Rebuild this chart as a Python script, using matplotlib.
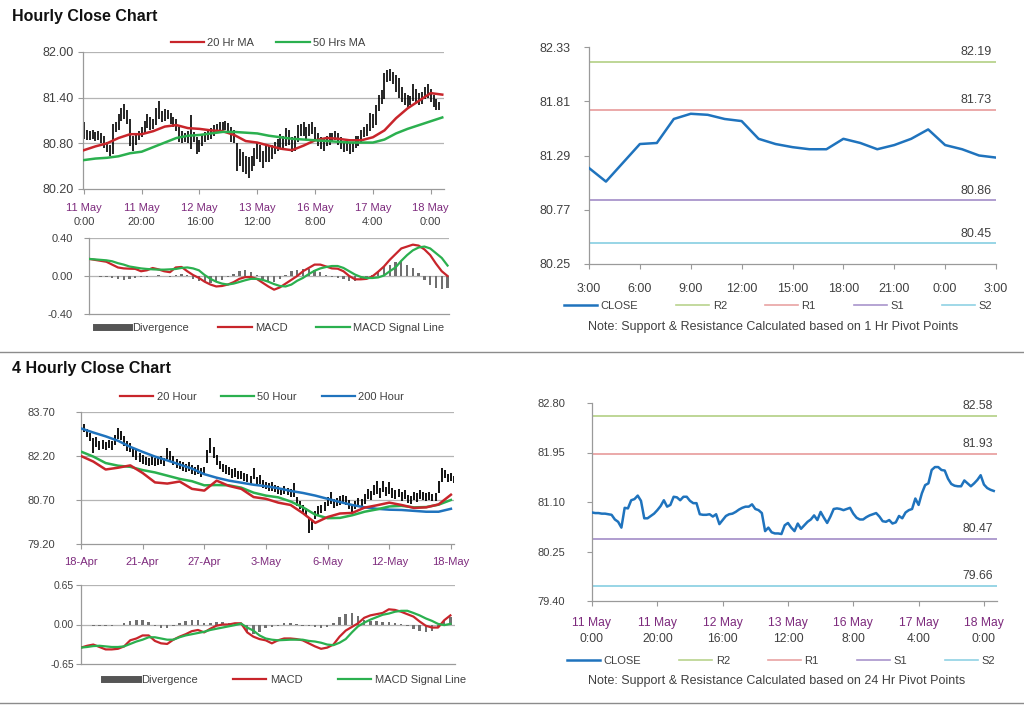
import numpy as np
import matplotlib
matplotlib.use("Agg")
import matplotlib.pyplot as plt
from matplotlib.lines import Line2D

plt.rcParams["font.family"] = ["Liberation Sans", "DejaVu Sans"]

# ---------------------------------------------------------------- hourly data
HOURLY_TICK_DATES = ["11 May", "11 May", "12 May", "13 May", "16 May", "17 May", "18 May"]
HOURLY_TICK_TIMES = ["0:00", "20:00", "16:00", "12:00", "8:00", "4:00", "0:00"]
HOURLY_TICK_EVERY = 20

HOURLY_HIGH = [
    81.08, 80.98, 80.96, 80.97, 80.95, 80.96, 80.94, 80.90, 80.82, 80.78,
    81.05, 81.08, 81.18, 81.26, 81.32, 81.24, 81.12, 80.90, 80.92, 80.96,
    81.02, 81.10, 81.18, 81.14, 81.12, 81.26, 81.35, 81.22, 81.25, 81.24,
    81.20, 81.14, 81.12, 81.02, 80.96, 80.94, 80.96, 81.17, 80.95, 80.88,
    80.84, 80.92, 80.95, 80.98, 81.00, 81.04, 81.06, 81.08, 81.08, 81.10,
    81.07, 81.02, 80.98, 80.80, 80.72, 80.68, 80.64, 80.62, 80.64, 80.74,
    80.82, 80.78, 80.70, 80.78, 80.76, 80.78, 80.82, 80.86, 80.92, 80.90,
    81.00, 80.98, 80.88, 80.90, 81.04, 81.06, 81.08, 81.02, 81.06, 81.08,
    81.02, 80.94, 80.88, 80.86, 80.90, 80.93, 80.94, 80.96, 80.94, 80.88,
    80.82, 80.84, 80.82, 80.82, 80.90, 80.90, 80.98, 81.02, 81.06, 81.20,
    81.18, 81.30, 81.44, 81.50, 81.72, 81.76, 81.78, 81.74, 81.70, 81.66,
    81.54, 81.46, 81.44, 81.42, 81.58, 81.52, 81.46, 81.48, 81.54, 81.58,
    81.52, 81.44, 81.38, 81.34]
HOURLY_LOW = [
    80.86, 80.85, 80.84, 80.86, 80.83, 80.84, 80.80, 80.74, 80.68, 80.64,
    80.66, 80.95, 80.98, 81.10, 81.12, 81.05, 80.76, 80.70, 80.78, 80.84,
    80.88, 80.94, 81.00, 80.98, 80.99, 81.04, 81.12, 81.08, 81.10, 81.12,
    81.06, 81.02, 80.96, 80.82, 80.80, 80.82, 80.80, 80.72, 80.82, 80.66,
    80.68, 80.76, 80.82, 80.84, 80.86, 80.90, 80.94, 80.96, 80.97, 80.98,
    80.92, 80.82, 80.80, 80.43, 80.50, 80.42, 80.40, 80.34, 80.44, 80.50,
    80.60, 80.56, 80.48, 80.56, 80.56, 80.60, 80.66, 80.70, 80.74, 80.72,
    80.76, 80.78, 80.68, 80.70, 80.82, 80.90, 80.90, 80.86, 80.90, 80.92,
    80.84, 80.76, 80.72, 80.70, 80.76, 80.78, 80.82, 80.84, 80.78, 80.72,
    80.68, 80.70, 80.66, 80.68, 80.74, 80.76, 80.80, 80.88, 80.90, 80.96,
    81.00, 81.04, 81.22, 81.32, 81.38, 81.60, 81.62, 81.58, 81.48, 81.40,
    81.34, 81.30, 81.28, 81.30, 81.36, 81.34, 81.30, 81.32, 81.38, 81.40,
    81.34, 81.28, 81.24, 81.24]
HOURLY_CLOSE = [
    80.92, 80.91, 80.91, 80.90, 80.90, 80.89, 80.88, 80.80, 80.76, 80.66,
    81.00, 80.99, 81.13, 81.15, 81.21, 81.12, 80.82, 80.82, 80.86, 80.90,
    80.96, 81.03, 81.13, 81.02, 81.05, 81.19, 81.18, 81.13, 81.19, 81.19,
    81.12, 81.08, 81.08, 80.89, 80.88, 80.88, 80.89, 80.85, 80.89, 80.72,
    80.79, 80.86, 80.89, 80.90, 80.93, 80.97, 81.00, 81.02, 81.02, 81.06,
    80.98, 80.96, 80.91, 80.60, 80.66, 80.58, 80.56, 80.56, 80.55, 80.70,
    80.74, 80.66, 80.60, 80.73, 80.64, 80.70, 80.76, 80.80, 80.87, 80.79,
    80.93, 80.83, 80.74, 80.85, 80.98, 80.99, 80.98, 80.96, 80.98, 81.00,
    80.90, 80.83, 80.80, 80.80, 80.84, 80.87, 80.89, 80.91, 80.85, 80.77,
    80.76, 80.79, 80.73, 80.75, 80.86, 80.82, 80.92, 80.96, 80.98, 81.16,
    81.05, 81.25, 81.39, 81.42, 81.65, 81.70, 81.70, 81.65, 81.64, 81.50,
    81.41, 81.38, 81.37, 81.37, 81.47, 81.42, 81.37, 81.42, 81.48, 81.56,
    81.40, 81.34, 81.31, 81.29]

MA_STEP = 4   # moving averages
HOURLY_MA20 = [80.71, 80.76, 80.80, 80.87, 80.92, 80.92, 80.96, 81.02, 81.04, 81.00,
               80.99, 80.97, 80.96, 80.91, 80.83, 80.81, 80.77, 80.73, 80.71, 80.77,
               80.84, 80.87, 80.86, 80.84, 80.84, 80.88, 80.97, 81.13, 81.26, 81.36,
               81.46, 81.44]
HOURLY_MA50 = [80.58, 80.60, 80.61, 80.63, 80.67, 80.69, 80.75, 80.81, 80.87, 80.90,
               80.91, 80.93, 80.95, 80.95, 80.94, 80.93, 80.90, 80.88, 80.86, 80.85,
               80.84, 80.83, 80.82, 80.81, 80.81, 80.81, 80.85, 80.93, 80.99, 81.04,
               81.09, 81.14]

MACD_STEP = 2  # MACD panels
HOURLY_MACD = [0.18, 0.17, 0.16, 0.15, 0.12, 0.09, 0.08, 0.077, 0.075, 0.05,
               0.06, 0.084, 0.07, 0.05, 0.04, 0.09, 0.095, 0.05, 0.01, -0.02,
               -0.06, -0.09, -0.11, -0.105, -0.09, -0.065, -0.03, -0.012, -0.01, -0.03,
               -0.07, -0.11, -0.144, -0.12, -0.08, -0.04, 0.00, 0.05, 0.085, 0.12,
               0.12, 0.10, 0.08, 0.077, 0.05, 0.00, -0.035, -0.035, -0.03, -0.004,
               0.045, 0.10, 0.17, 0.23, 0.29, 0.31, 0.33, 0.32, 0.28, 0.22,
               0.13, 0.05, 0.00]
HOURLY_SIGNAL = [0.18, 0.175, 0.17, 0.165, 0.155, 0.135, 0.12, 0.10, 0.09, 0.08,
                 0.074, 0.07, 0.067, 0.067, 0.07, 0.074, 0.085, 0.09, 0.08, 0.06,
                 0.01, -0.03, -0.06, -0.08, -0.09, -0.08, -0.063, -0.045, -0.03, -0.03,
                 -0.04, -0.06, -0.085, -0.105, -0.11, -0.09, -0.05, -0.02, 0.02, 0.055,
                 0.08, 0.095, 0.105, 0.105, 0.085, 0.05, 0.015, -0.01, -0.021, -0.021,
                 -0.015, 0.005, 0.05, 0.09, 0.16, 0.22, 0.27, 0.30, 0.31, 0.29,
                 0.24, 0.19, 0.11]
HOURLY_DIVERGENCE = [0.0, -0.005, -0.01, -0.015, -0.02, -0.03, -0.04, -0.035, -0.02, -0.015,
                     -0.01, 0.005, 0.01, -0.005, -0.01, 0.015, 0.02, 0.01, -0.03, -0.05,
                     -0.065, -0.07, -0.06, -0.04, -0.01, 0.02, 0.05, 0.065, 0.04, 0.01,
                     -0.03, -0.05, -0.06, -0.03, 0.01, 0.05, 0.06, 0.07, 0.07, 0.065,
                     0.04, 0.01, -0.01, -0.02, -0.03, -0.05, -0.05, -0.03, -0.01, 0.01,
                     0.04, 0.09, 0.12, 0.15, 0.16, 0.12, 0.08, 0.03, -0.04, -0.09,
                     -0.13, -0.14, -0.13]

# last 24 hours, 1 Hr pivots
LAST_DAY_TICKS = ["3:00", "6:00", "9:00", "12:00", "15:00", "18:00", "21:00", "0:00", "3:00"]
LAST_DAY_CLOSE = [81.17, 81.04, 81.22, 81.40, 81.41, 81.64, 81.69, 81.68, 81.64, 81.62,
                  81.45, 81.40, 81.37, 81.35, 81.35, 81.45, 81.41, 81.35, 81.39, 81.45,
                  81.54, 81.39, 81.35, 81.29, 81.27]
PIVOT_NAMES = ["R2", "R1", "S1", "S2"]
HOURLY_PIVOT_LEVELS = [82.19, 81.73, 80.86, 80.45]
DAILY_PIVOT_LEVELS = [82.58, 81.93, 80.47, 79.66]

# ------------------------------------------------------------ 4 hourly data
FOUR_HOUR_TICKS = ["18-Apr", "21-Apr", "27-Apr", "3-May", "6-May", "12-May", "18-May"]
FOUR_HOUR_TICK_EVERY = 20
FOUR_HOUR_HIGH = [
    83.35, 83.28, 83.12, 83.00, 82.80, 82.85, 82.70, 82.74, 82.68, 82.76,
    82.70, 82.90, 83.14, 83.05, 82.88, 82.72, 82.66, 82.50, 82.40, 82.30,
    82.25, 82.18, 82.14, 82.20, 82.14, 82.18, 82.20, 82.14, 82.46, 82.36,
    82.20, 82.10, 82.04, 81.98, 81.94, 82.00, 81.88, 81.84, 81.90, 81.78,
    81.84, 82.40, 82.80, 82.50, 82.22, 82.04, 81.94, 81.88, 81.84, 81.74,
    81.80, 81.68, 81.70, 81.62, 81.58, 81.52, 81.78, 81.50, 81.54, 81.38,
    81.32, 81.28, 81.30, 81.22, 81.18, 81.12, 81.18, 81.12, 81.08, 81.28,
    80.80, 80.68, 80.54, 80.44, 80.10, 80.02, 80.34, 80.48, 80.54, 80.64,
    80.80, 80.96, 80.74, 80.78, 80.84, 80.88, 80.84, 80.70, 80.58, 80.68,
    80.78, 80.74, 80.90, 81.06, 81.00, 81.22, 81.36, 81.10, 81.34, 81.14,
    81.30, 81.10, 81.04, 81.08, 80.98, 81.04, 80.88, 80.84, 80.98, 80.94,
    81.04, 80.98, 80.94, 80.98, 80.92, 80.94, 81.36, 81.78, 81.72, 81.60,
    81.62, 81.52]
FOUR_HOUR_LOW = [
    83.12, 83.02, 82.86, 82.70, 82.29, 82.52, 82.40, 82.44, 82.40, 82.46,
    82.40, 82.58, 82.78, 82.74, 82.54, 82.38, 82.34, 82.18, 82.08, 81.98,
    81.94, 81.90, 81.86, 81.90, 81.86, 81.90, 81.92, 81.86, 82.10, 82.04,
    81.90, 81.80, 81.74, 81.70, 81.64, 81.70, 81.60, 81.54, 81.60, 81.50,
    81.56, 81.96, 82.30, 82.12, 81.88, 81.74, 81.64, 81.60, 81.56, 81.44,
    81.50, 81.40, 81.40, 81.36, 81.30, 81.26, 81.42, 81.18, 81.24, 81.10,
    81.06, 81.02, 81.00, 80.96, 80.90, 80.86, 80.90, 80.86, 80.80, 80.80,
    80.50, 80.40, 80.26, 80.14, 79.56, 79.68, 80.04, 80.20, 80.24, 80.34,
    80.48, 80.56, 80.44, 80.50, 80.54, 80.60, 80.54, 80.38, 80.30, 80.40,
    80.50, 80.44, 80.58, 80.74, 80.70, 80.88, 80.92, 80.78, 80.96, 80.84,
    80.92, 80.78, 80.74, 80.80, 80.68, 80.74, 80.60, 80.56, 80.70, 80.64,
    80.74, 80.70, 80.66, 80.70, 80.66, 80.66, 80.94, 81.30, 81.44, 81.30,
    81.34, 81.28]
FOUR_HOUR_MA20 = [82.20, 82.01, 81.74, 81.80, 81.88, 81.62, 81.30, 81.26, 81.33, 81.08,
                  81.02, 81.36, 81.18, 81.08, 80.80, 80.74, 80.61, 80.53, 80.25, 79.92,
                  80.12, 80.24, 80.26, 80.44, 80.52, 80.61, 80.53, 80.43, 80.45, 80.55,
                  80.88]
FOUR_HOUR_MA50 = [82.35, 82.18, 81.96, 81.87, 81.83, 81.72, 81.64, 81.53, 81.42, 81.34,
                  81.20, 81.21, 81.20, 81.12, 80.95, 80.85, 80.79, 80.65, 80.45, 80.20,
                  80.08, 80.09, 80.18, 80.30, 80.38, 80.48, 80.50, 80.45, 80.46, 80.54,
                  80.70]
FOUR_HOUR_MA200 = [83.14, 83.00, 82.87, 82.72, 82.51, 82.34, 82.18, 82.05, 81.91, 81.77,
                   81.58, 81.46, 81.36, 81.29, 81.22, 81.17, 81.10, 81.01, 80.94, 80.85,
                   80.74, 80.63, 80.53, 80.45, 80.40, 80.37, 80.36, 80.33, 80.30, 80.30,
                   80.40]
FOUR_HOUR_MACD = [-0.38, -0.35, -0.33, -0.37, -0.41, -0.41, -0.40, -0.36, -0.26, -0.23,
                  -0.18, -0.18, -0.27, -0.31, -0.32, -0.25, -0.20, -0.16, -0.11, -0.09,
                  -0.13, -0.07, -0.02, 0.00, 0.00, 0.02, 0.02, -0.13, -0.20, -0.24,
                  -0.26, -0.31, -0.26, -0.23, -0.23, -0.24, -0.26, -0.31, -0.36, -0.40,
                  -0.38, -0.33, -0.20, -0.10, -0.04, 0.02, 0.11, 0.15, 0.17, 0.19,
                  0.25, 0.24, 0.21, 0.17, 0.13, 0.05, -0.02, -0.05, -0.05, 0.07,
                  0.15]
FOUR_HOUR_SIGNAL = [-0.38, -0.37, -0.355, -0.35, -0.36, -0.37, -0.37, -0.36, -0.32, -0.28,
                    -0.25, -0.21, -0.21, -0.23, -0.25, -0.25, -0.21, -0.18, -0.16, -0.14,
                    -0.12, -0.09, -0.07, -0.05, -0.03, -0.01, 0.015, -0.05, -0.10, -0.18,
                    -0.23, -0.25, -0.26, -0.255, -0.25, -0.25, -0.25, -0.27, -0.28, -0.30,
                    -0.33, -0.34, -0.30, -0.24, -0.13, -0.03, 0.03, 0.08, 0.12, 0.16,
                    0.18, 0.21, 0.225, 0.226, 0.19, 0.15, 0.10, 0.06, 0.01, -0.01,
                    0.01]
FOUR_HOUR_DIVERGENCE = [-0.01, -0.01, -0.02, -0.03, -0.03, -0.02, -0.01, 0.02, 0.05, 0.08,
                        0.08, 0.04, -0.03, -0.06, -0.06, -0.02, 0.03, 0.06, 0.08, 0.07,
                        0.03, 0.02, 0.04, 0.04, 0.03, 0.02, 0.0, -0.12, -0.16, -0.12,
                        -0.06, -0.04, -0.02, 0.02, 0.03, 0.01, -0.02, -0.03, -0.04, -0.05,
                        -0.04, 0.02, 0.12, 0.18, 0.19, 0.14, 0.08, 0.06, 0.05, 0.04,
                        0.04, 0.03, 0.01, -0.03, -0.07, -0.11, -0.13, -0.10, -0.06, 0.06,
                        0.13]

# ------------------------------------------------------------------ styling
FIG_W, FIG_H = 1024, 706
RED = "#c8252b"
GREEN = "#2bb04f"
BLUE = "#1f73bd"
PIVOT_COLORS = ["#b9d38e", "#e9a3a3", "#a995cc", "#90d2e4"]
AXIS_GRAY = "#9a9a9a"
GRID_GRAY = "#b4b4b4"
TEXT_GRAY = "#404040"
DATE_PURPLE = "#7d2a7d"
LEGEND_FONT = 8


def px_axes(fig, left, top, right, bottom):
    return fig.add_axes([left / FIG_W, 1 - bottom / FIG_H,
                         (right - left) / FIG_W, (bottom - top) / FIG_H])


def base_style(ax, ypad, size):
    for side in ("top", "right"):
        ax.spines[side].set_visible(False)
    for side in ("left", "bottom"):
        ax.spines[side].set_color(AXIS_GRAY)
        ax.spines[side].set_linewidth(0.9)
    ax.tick_params(colors=AXIS_GRAY, labelcolor=TEXT_GRAY, labelsize=size,
                   length=3.5, width=0.8, direction="out")
    ax.tick_params(axis="y", pad=ypad)


def y_grid(ax, levels):
    for lvl in levels:
        ax.axhline(lvl, color=GRID_GRAY, linewidth=0.9, zorder=0)


def two_line_dates(ax, positions, dates, times, first, second, size):
    ax.set_xticks(positions)
    ax.set_xticklabels([])
    for x, d, t in zip(positions, dates, times):
        ax.annotate(d, xy=(x, 0), xycoords=("data", "axes fraction"), xytext=(0, -first),
                    textcoords="offset points", ha="center", va="center",
                    fontsize=size, color=DATE_PURPLE)
        ax.annotate(t, xy=(x, 0), xycoords=("data", "axes fraction"), xytext=(0, -second),
                    textcoords="offset points", ha="center", va="center",
                    fontsize=size, color=TEXT_GRAY)


def fig_legend(fig, handles, labels, cx, cy, spacing):
    fig.legend(handles, labels, loc="center", bbox_to_anchor=(cx / FIG_W, 1 - cy / FIG_H),
               ncol=len(handles), frameon=False, fontsize=LEGEND_FONT, handlelength=3.0,
               handletextpad=0.3, columnspacing=spacing, labelcolor=TEXT_GRAY)


def macd_panel(ax, macd, signal, divergence, lim, ticks, xmax):
    xs = np.arange(len(macd)) * MACD_STEP
    ax.bar(np.arange(len(divergence)) * MACD_STEP, divergence, width=0.8,
           color="#707070", zorder=2)
    ax.plot(xs, macd, color=RED, linewidth=1.6, zorder=3)
    ax.plot(xs, signal, color=GREEN, linewidth=1.6, zorder=3)
    ax.axhline(0, color=GRID_GRAY, linewidth=0.9, zorder=1)
    ax.axhline(lim, color=GRID_GRAY, linewidth=0.9, zorder=1)
    ax.set_ylim(-lim, lim)
    ax.set_yticks(ticks)
    ax.set_yticklabels([f"{t:.2f}" for t in ticks])
    ax.set_xlim(0, xmax)
    ax.set_xticks([])


def pivot_panel(ax, xs, close, levels, ticks, label_size):
    for lvl, color in zip(levels, PIVOT_COLORS):
        ax.axhline(lvl, color=color, linewidth=1.3, zorder=1)
        ax.annotate(f"{lvl:.2f}", xy=(1, lvl), xycoords=("axes fraction", "data"),
                    xytext=(-3, 2.5), textcoords="offset points", ha="right", va="bottom",
                    fontsize=label_size, color=TEXT_GRAY)
    ax.plot(xs, close, color=BLUE, linewidth=1.8, zorder=3)
    ax.set_ylim(ticks[-1], ticks[0])
    ax.set_yticks(ticks)
    ax.set_yticklabels([f"{t:.2f}" for t in ticks])


def main():
    fig = plt.figure(figsize=(FIG_W / 100, FIG_H / 100), dpi=100)

    fig.text(12 / FIG_W, 1 - 16 / FIG_H, "Hourly Close Chart", fontsize=11.5,
             fontweight="bold", va="center", color="#111111")
    fig.text(12 / FIG_W, 1 - 369 / FIG_H, "4 Hourly Close Chart", fontsize=11.5,
             fontweight="bold", va="center", color="#111111")
    for y in (352, 703):
        fig.add_artist(Line2D([0, 1], [1 - y / FIG_H] * 2, transform=fig.transFigure,
                              color="#8c8c8c", linewidth=1.0))

    # ---------------- hourly bars + MAs
    ax = px_axes(fig, 83, 52, 444, 189)
    base_style(ax, 3, 9)
    n_hourly = len(HOURLY_HIGH)
    hourly_x = np.arange(n_hourly)
    y_grid(ax, [81.40, 80.80, 82.00])
    ax.vlines(hourly_x, HOURLY_LOW, HOURLY_HIGH, color="black", linewidth=1.2, zorder=2)
    ma_x = np.arange(len(HOURLY_MA20)) * MA_STEP
    ax.plot(ma_x, HOURLY_MA20, color=RED, linewidth=1.8, zorder=3)
    ax.plot(ma_x, HOURLY_MA50, color=GREEN, linewidth=1.8, zorder=3)
    ax.set_ylim(80.20, 82.00)
    ax.set_yticks([80.20, 80.80, 81.40, 82.00])
    ax.set_yticklabels(["80.20", "80.80", "81.40", "82.00"])
    ax.set_xlim(-0.3, 124.6)
    ticks = np.arange(len(HOURLY_TICK_DATES)) * HOURLY_TICK_EVERY
    two_line_dates(ax, ticks, HOURLY_TICK_DATES, HOURLY_TICK_TIMES, 14, 23.5, 8)
    fig_legend(fig, [Line2D([], [], color=RED, lw=1.6), Line2D([], [], color=GREEN, lw=1.6)],
               ["20 Hr MA", "50 Hrs MA"], 268, 43, 2.0)

    ax = px_axes(fig, 89, 238, 449, 314)
    base_style(ax, 8, 8)
    macd_panel(ax, HOURLY_MACD, HOURLY_SIGNAL, HOURLY_DIVERGENCE, 0.40,
               [-0.40, 0.00, 0.40], 124.5)
    fig_legend(fig, [Line2D([], [], color="#555555", lw=5), Line2D([], [], color=RED, lw=1.6),
                     Line2D([], [], color=GREEN, lw=1.6)],
               ["Divergence", "MACD", "MACD Signal Line"], 270, 328, 2.6)

    # ---------------- last 24 hours with 1 Hr pivots
    ax = px_axes(fig, 589, 47, 996, 264)
    base_style(ax, 10, 9)
    day_x = np.arange(len(LAST_DAY_CLOSE))
    pivot_panel(ax, day_x, LAST_DAY_CLOSE, HOURLY_PIVOT_LEVELS,
                [82.33, 81.81, 81.29, 80.77, 80.25], 9)
    ax.set_xlim(0, len(LAST_DAY_CLOSE) - 1)
    ax.set_xticks(np.arange(len(LAST_DAY_TICKS)) * 3)
    ax.set_xticklabels(LAST_DAY_TICKS)
    ax.tick_params(axis="x", pad=10)
    handles = [Line2D([], [], color=BLUE, lw=1.8)] + \
              [Line2D([], [], color=c, lw=1.2) for c in PIVOT_COLORS]
    fig_legend(fig, handles, ["CLOSE"] + PIVOT_NAMES, 778, 306, 3.4)
    fig.text(773 / FIG_W, 1 - 327 / FIG_H,
             "Note: Support & Resistance Calculated based on 1 Hr Pivot Points",
             ha="center", va="center", fontsize=9, color=TEXT_GRAY)

    # ---------------- 4 hourly bars + MAs
    ax = px_axes(fig, 81, 412, 454, 544)
    base_style(ax, 15, 8)
    n_four = len(FOUR_HOUR_HIGH)
    y_grid(ax, [82.20, 80.70, 83.70])
    ax.vlines(np.arange(n_four), FOUR_HOUR_LOW, FOUR_HOUR_HIGH, color="black",
              linewidth=1.3, zorder=2)
    ma_x = np.arange(len(FOUR_HOUR_MA20)) * MA_STEP
    ax.plot(ma_x, FOUR_HOUR_MA200, color=BLUE, linewidth=1.8, zorder=3)
    ax.plot(ma_x, FOUR_HOUR_MA50, color=GREEN, linewidth=1.8, zorder=3)
    ax.plot(ma_x, FOUR_HOUR_MA20, color=RED, linewidth=1.8, zorder=3)
    ax.set_ylim(79.20, 83.70)
    ax.set_yticks([79.20, 80.70, 82.20, 83.70])
    ax.set_yticklabels(["79.20", "80.70", "82.20", "83.70"])
    ax.set_xlim(0, 121)
    ax.set_xticks(np.arange(len(FOUR_HOUR_TICKS)) * FOUR_HOUR_TICK_EVERY)
    ax.set_xticklabels(FOUR_HOUR_TICKS, color=DATE_PURPLE)
    ax.tick_params(axis="x", pad=6)
    fig_legend(fig, [Line2D([], [], color=RED, lw=1.6), Line2D([], [], color=GREEN, lw=1.6),
                     Line2D([], [], color=BLUE, lw=1.6)],
               ["20 Hour", "50 Hour", "200 Hour"], 262, 397, 2.2)

    ax = px_axes(fig, 81, 585, 455, 664)
    base_style(ax, 1.5, 7.5)
    macd_panel(ax, FOUR_HOUR_MACD, FOUR_HOUR_SIGNAL, FOUR_HOUR_DIVERGENCE, 0.65,
               [-0.65, 0.00, 0.65], 121.5)
    fig_legend(fig, [Line2D([], [], color="#555555", lw=5), Line2D([], [], color=RED, lw=1.6),
                     Line2D([], [], color=GREEN, lw=1.6)],
               ["Divergence", "MACD", "MACD Signal Line"], 285, 680, 3.2)

    # ---------------- hourly close with 24 Hr pivots
    ax = px_axes(fig, 592, 403, 997, 601)
    base_style(ax, 16, 8)
    pivot_panel(ax, hourly_x, HOURLY_CLOSE, DAILY_PIVOT_LEVELS,
                [82.80, 81.95, 81.10, 80.25, 79.40], 8.7)
    ax.set_xlim(0, 124)
    two_line_dates(ax, ticks, HOURLY_TICK_DATES, HOURLY_TICK_TIMES, 16, 27, 8.7)
    handles = [Line2D([], [], color=BLUE, lw=1.8)] + \
              [Line2D([], [], color=c, lw=1.2) for c in PIVOT_COLORS]
    fig_legend(fig, handles, ["CLOSE"] + PIVOT_NAMES, 781, 661, 3.4)
    fig.text(777 / FIG_W, 1 - 681 / FIG_H,
             "Note: Support & Resistance Calculated based on 24 Hr Pivot Points",
             ha="center", va="center", fontsize=9, color=TEXT_GRAY)

    fig.savefig("out.png", dpi=100, facecolor="white")
    plt.close(fig)


if __name__ == "__main__":
    main()
